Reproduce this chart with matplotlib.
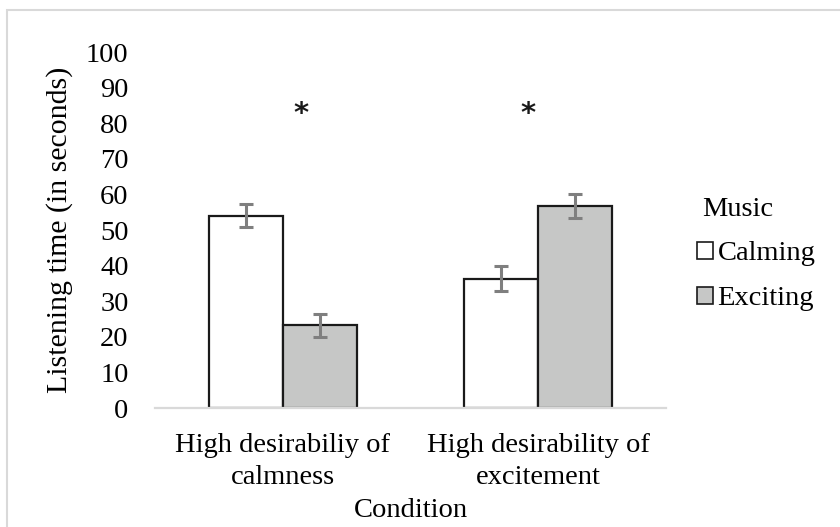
import matplotlib
matplotlib.use('Agg')
import matplotlib.pyplot as plt
from matplotlib.patches import Patch, Rectangle
import numpy as np

# data
conditions = ['High desirabiliy of\ncalmness', 'High desirability of\nexcitement']
music = ['Calming', 'Exciting']
calming = [54.0, 36.3]
exciting = [23.2, 56.8]
calming_err = [3.2, 3.5]
exciting_err = [3.2, 3.4]
star_x = [0.07, 0.96]
star_y = [82.5, 82.5]

plt.rcParams['font.family'] = ['Liberation Serif', 'DejaVu Serif']
FS = 20.5

fig = plt.figure(figsize=(8.4, 5.27), dpi=100)
ax = fig.add_axes([155/840, 1-408/527, (666-155)/840, (408-52)/527])

# thin grey frame of the figure (left and top edges only visible)
fig.patches.append(Rectangle((7/840, -0.1), 1.2, 1-10/527+0.1, transform=fig.transFigure,
                             fill=False, edgecolor='#d9d9d9', lw=1.5))

x = np.arange(len(conditions))
w = 0.29
edge = '#1a1a1a'
ax.bar(x - w/2, calming, w, color='white', edgecolor=edge, lw=1.6, zorder=2)
ax.bar(x + w/2, exciting, w, color='#c6c7c6', edgecolor=edge, lw=1.6, zorder=2)
ax.errorbar(x - w/2, calming, yerr=calming_err, fmt='none', ecolor='#7f7f7f',
            elinewidth=2.2, capsize=5, capthick=2.2, zorder=3)
ax.errorbar(x + w/2, exciting, yerr=exciting_err, fmt='none', ecolor='#7f7f7f',
            elinewidth=2.2, capsize=5, capthick=2.2, zorder=3)

for sx, sy in zip(star_x, star_y):
    ax.text(sx, sy, '*', ha='center', va='center', fontsize=21, fontweight='bold',
            family='DejaVu Sans', color='#1a1a1a')

ax.set_xlim(-0.5, 1.5)
ax.set_ylim(0, 100)
ax.set_yticks(range(0, 101, 10))
ax.set_xticks(x)
ax.set_xticklabels(conditions, fontsize=FS, linespacing=1.36)
ax.tick_params(axis='y', labelsize=FS, length=0, pad=19)
ax.tick_params(axis='x', length=0, pad=18)
for s in ['top', 'right', 'left']:
    ax.spines[s].set_visible(False)
ax.spines['bottom'].set_color('#d9d9d9')
ax.spines['bottom'].set_linewidth(1.6)

ax.set_ylabel('Listening time (in seconds)', fontsize=21.5, labelpad=9)
ax.set_xlabel('Condition', fontsize=FS, labelpad=6)

handles = [Patch(facecolor='white', edgecolor=edge, lw=1.2),
           Patch(facecolor='#c6c7c6', edgecolor=edge, lw=1.2)]
leg = fig.legend(handles, music, title='Music', loc='center left',
                 bbox_to_anchor=(686/840, 1-254/527), frameon=False, fontsize=FS,
                 title_fontsize=FS, handlelength=0.56, handleheight=0.56,
                 handletextpad=0.15, labelspacing=0.7, borderaxespad=0)
leg._legend_box.align = 'left'
# the reference title sits a little to the right of the boxes
leg.get_title().set_x(5)

fig.savefig('out.png', dpi=100)
